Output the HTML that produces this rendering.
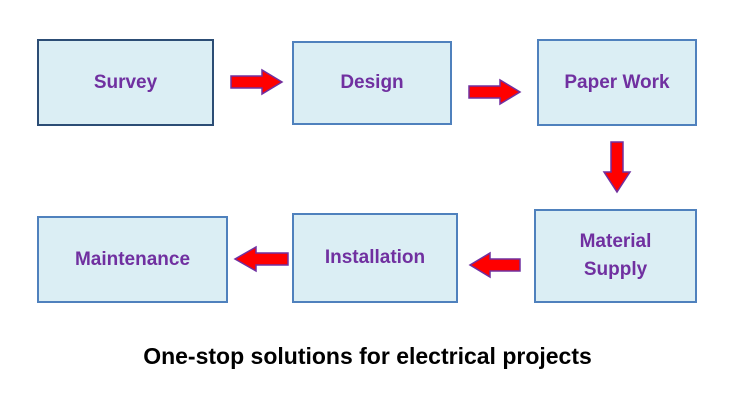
<!DOCTYPE html>
<html><head><style>
body{margin:0;width:735px;height:413px;background:#fff;position:relative;overflow:hidden;font-family:"Liberation Sans",sans-serif}
.b{position:absolute;box-sizing:border-box;background:#dbeef4;border:2px solid #4f81bd;display:flex;align-items:center;justify-content:center;text-align:center;color:#7030a0;font-weight:bold;font-size:19px;line-height:28px}
.cap{position:absolute;left:0;width:735px;top:343px;text-align:center;font-weight:bold;font-size:23px;color:#000}
svg{position:absolute;left:0;top:0}
</style></head><body>
<div class="b" style="left:37px;top:39px;width:177px;height:87px;border-color:#2c4d75">Survey</div>
<div class="b" style="left:292px;top:41px;width:160px;height:84px">Design</div>
<div class="b" style="left:537px;top:39px;width:160px;height:87px">Paper Work</div>
<div class="b" style="left:534px;top:209px;width:163px;height:94px">Material<br>Supply</div>
<div class="b" style="left:292px;top:213px;width:166px;height:90px">Installation</div>
<div class="b" style="left:37px;top:216px;width:191px;height:87px">Maintenance</div>
<svg width="735" height="413">
<g fill="#ff0000" stroke="#7030a0" stroke-width="1.5">
<polygon points="231,76 262,76 262,70 282,82 262,94 262,88 231,88"/>
<polygon points="469,86 500,86 500,80 520,92 500,104 500,98 469,98"/>
<polygon points="611,142 623,142 623,172 630,172 617,192 604,172 611,172"/>
<polygon points="520,259 490,259 490,253 470,265 490,277 490,271 520,271"/>
<polygon points="288,253 256,253 256,247 235,259 256,271 256,265 288,265"/>
</g></svg>
<div class="cap">One-stop solutions for electrical projects</div>
</body></html>
